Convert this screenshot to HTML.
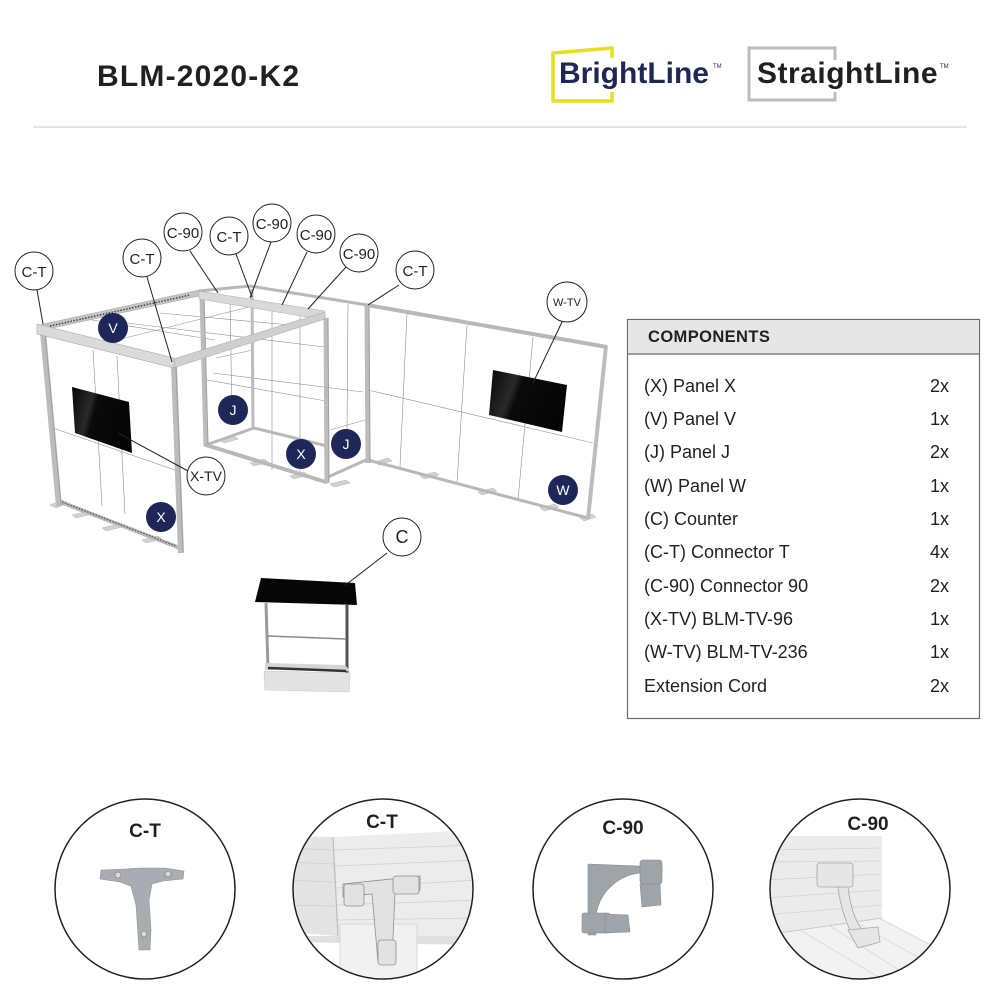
<!DOCTYPE html>
<html><head><meta charset="utf-8"><style>
html,body{margin:0;padding:0;background:#fff;}
svg{display:block;}
text{font-family:"Liberation Sans",Arial,sans-serif;}
</style></head><body>
<svg width="1000" height="1000" viewBox="0 0 1000 1000" xmlns="http://www.w3.org/2000/svg">
<defs>
<linearGradient id="tv" x1="0" y1="0" x2="1" y2="0.3">
<stop offset="0" stop-color="#050505"/><stop offset="0.35" stop-color="#2a2a2a"/><stop offset="0.45" stop-color="#0a0a0a"/><stop offset="1" stop-color="#050505"/>
</linearGradient>
<clipPath id="c2"><circle cx="383" cy="889" r="89"/></clipPath>
<clipPath id="c4"><circle cx="860" cy="889" r="89"/></clipPath>
</defs>

<!-- Header -->
<text x="97" y="86" font-size="30" font-weight="bold" fill="#231f20" letter-spacing="1.2">BLM-2020-K2</text>
<path d="M612,58 L612,48 L553,53 L553,101 L612,101 L612,92" fill="none" stroke="#e4df1f" stroke-width="3.5"/>
<text x="559" y="83" font-size="30" font-weight="bold" fill="#1e2756">BrightLine</text>
<text x="713" y="68" font-size="6" fill="#1e2756">TM</text>
<path d="M835,60 L835,48 L749,48 L749,100 L835,100 L835,92" fill="none" stroke="#bcbcbc" stroke-width="3"/>
<text x="757" y="83" font-size="30" font-weight="bold" fill="#231f20" letter-spacing="0.5">StraightLine</text>
<text x="940" y="68" font-size="6" fill="#231f20">TM</text>
<line x1="33" y1="127" x2="967" y2="127" stroke="#c8c8c8" stroke-width="1"/>

<!-- ===== Structure ===== -->
<g stroke="#8d8d8d" stroke-width="0.6" fill="none">
<line x1="127" y1="323" x2="325" y2="347"/>
<line x1="117" y1="340" x2="253" y2="306"/>
<line x1="80" y1="318" x2="215" y2="340"/>
<line x1="160" y1="313" x2="290" y2="325"/>
<line x1="93" y1="350" x2="102" y2="506"/>
<line x1="117" y1="356" x2="125" y2="514"/>
<line x1="50" y1="427" x2="175" y2="470"/>
<line x1="230" y1="300" x2="232" y2="415"/>
<line x1="272" y1="306" x2="272" y2="470"/>
<line x1="300" y1="311" x2="300" y2="476"/>
<line x1="348" y1="304" x2="347" y2="430"/>
<line x1="207" y1="380" x2="326" y2="401"/>
<line x1="213" y1="373" x2="363" y2="392"/>
<line x1="330" y1="430" x2="365" y2="420"/>
<line x1="216" y1="358" x2="253" y2="350"/>
<line x1="407" y1="313" x2="400" y2="467"/>
<line x1="467" y1="325" x2="457" y2="483"/>
<line x1="533" y1="337" x2="518" y2="500"/>
<line x1="368" y1="390" x2="593" y2="443"/>
</g>

<!-- feet -->
<g fill="#d2d2d2" stroke="#b5b5b5" stroke-width="0.5">
<polygon points="50,505 62,500 68,503 56,508"/>
<polygon points="72,515 88,511 92,514 76,518"/>
<polygon points="102,528 118,524 122,527 106,531"/>
<polygon points="142,540 158,536 162,539 146,543"/>
<polygon points="220,440 234,436 238,439 224,443"/>
<polygon points="250,463 264,459 268,462 254,466"/>
<polygon points="290,476 304,472 308,475 294,479"/>
<polygon points="330,484 346,480 350,483 334,487"/>
<polygon points="375,462 388,458 392,461 379,465"/>
<polygon points="420,476 435,472 439,475 424,479"/>
<polygon points="478,492 493,488 497,491 482,495"/>
<polygon points="540,508 555,504 559,507 544,511"/>
<polygon points="580,518 592,514 596,517 584,521"/>
</g>

<!-- bottoms -->
<g stroke="#b8b8b8" fill="none" stroke-linecap="round">
<line x1="58" y1="501" x2="180" y2="548" stroke-width="4"/>
<line x1="206" y1="445" x2="326" y2="482" stroke-width="4"/>
<line x1="254" y1="428" x2="327" y2="446" stroke-width="3"/>
<line x1="328" y1="477" x2="366" y2="460" stroke-width="3"/>
<line x1="206" y1="445" x2="254" y2="428" stroke-width="3"/>
<line x1="368" y1="460" x2="588" y2="518" stroke-width="3"/>
</g>
<line x1="62" y1="502" x2="176" y2="546" stroke="#555" stroke-width="1.2" stroke-dasharray="1.5,1.5"/>

<!-- posts -->
<g stroke="#bcbcbc" fill="none">
<line x1="43" y1="332" x2="59" y2="506" stroke-width="6"/>
<line x1="174" y1="366" x2="181" y2="553" stroke-width="6"/>
<line x1="202" y1="296" x2="206" y2="446" stroke-width="5"/>
<line x1="252" y1="289" x2="253" y2="428" stroke-width="3"/>
<line x1="326" y1="318" x2="327" y2="483" stroke-width="5"/>
<line x1="367" y1="305" x2="368" y2="463" stroke-width="5"/>
<line x1="606" y1="346" x2="588" y2="519" stroke-width="4"/>
</g>
<g stroke="#a0a0a0" stroke-width="1" fill="none">
<line x1="45" y1="333" x2="61" y2="505"/>
<line x1="176" y1="366" x2="183" y2="552"/>
<line x1="204" y1="297" x2="208" y2="445"/>
<line x1="328" y1="318" x2="329" y2="482"/>
<line x1="369" y1="306" x2="370" y2="462"/>
</g>

<!-- top beams -->
<g stroke="#b8b8b8" fill="none">
<polyline points="199,291 250,286 367,305" stroke-width="3"/>
<line x1="367" y1="305" x2="607" y2="347" stroke-width="4"/>
</g>
<polygon points="39,325 199,290 199,296 39,331" fill="#c4c4c4" stroke="#a5a5a5" stroke-width="0.5"/>
<line x1="50" y1="326" x2="190" y2="295" stroke="#444" stroke-width="1.5" stroke-dasharray="1.5,1.5"/>
<polygon points="199,291 325,311 325,320 199,299" fill="#d9d9d9" stroke="#ababab" stroke-width="0.5"/>
<polygon points="173,359 325,312 325,319 173,368" fill="#cfcfcf" stroke="#a8a8a8" stroke-width="0.5"/>
<polygon points="37,324 174,358 174,368 37,334" fill="#dadada" stroke="#a8a8a8" stroke-width="0.6"/>

<!-- TVs -->
<polygon points="72,387 129,402 132,453 75,433" fill="url(#tv)"/>
<polygon points="493,370 567,385 562,432 489,415" fill="url(#tv)"/>

<!-- Counter -->
<g>
<line x1="266" y1="603" x2="268" y2="668" stroke="#9a9a9a" stroke-width="3"/>
<line x1="347" y1="605" x2="347" y2="673" stroke="#555" stroke-width="3"/>
<line x1="268" y1="636" x2="346" y2="639" stroke="#8a8a8a" stroke-width="1.5"/>
<polygon points="265,663 345,665 350,671 265,670" fill="#d5d5d5"/>
<line x1="268" y1="668" x2="346" y2="671" stroke="#333" stroke-width="2.5"/>
<polygon points="264,671 350,673 349,692 265,690" fill="#e2e2e2" stroke="#c8c8c8" stroke-width="0.6"/>
<polygon points="261,578 355,583 357,605 255,602" fill="#060606"/>
</g>

<!-- Leader lines -->
<g stroke="#231f20" stroke-width="1" fill="none">
<line x1="37" y1="290" x2="43" y2="324"/>
<line x1="147" y1="277" x2="172" y2="362"/>
<line x1="190" y1="251" x2="218" y2="293"/>
<line x1="236" y1="254" x2="252" y2="297"/>
<line x1="271" y1="242" x2="250" y2="298"/>
<line x1="307" y1="252" x2="282" y2="305"/>
<line x1="346" y1="267" x2="308" y2="309"/>
<line x1="399" y1="285" x2="368" y2="305"/>
<line x1="562" y1="322" x2="532" y2="385"/>
<line x1="188" y1="471" x2="118" y2="433"/>
<line x1="387" y1="553" x2="343" y2="587"/>
</g>

<!-- Label circles -->
<g fill="#fff" stroke="#231f20" stroke-width="1">
<circle cx="34" cy="271" r="19"/>
<circle cx="142" cy="258" r="19"/>
<circle cx="183" cy="232" r="19"/>
<circle cx="229" cy="236" r="19"/>
<circle cx="272" cy="223" r="19"/>
<circle cx="316" cy="234" r="19"/>
<circle cx="359" cy="253" r="19"/>
<circle cx="415" cy="270" r="19"/>
<circle cx="567" cy="302" r="20"/>
<circle cx="206" cy="476" r="19"/>
<circle cx="402" cy="537" r="19"/>
</g>
<g fill="#231f20" font-size="15" text-anchor="middle">
<text x="34" y="277">C-T</text>
<text x="142" y="264">C-T</text>
<text x="183" y="238">C-90</text>
<text x="229" y="242">C-T</text>
<text x="272" y="229">C-90</text>
<text x="316" y="240">C-90</text>
<text x="359" y="259">C-90</text>
<text x="415" y="276">C-T</text>
<text x="567" y="306" font-size="11">W-TV</text>
<text x="206" y="481" font-size="14">X-TV</text>
<text x="402" y="543" font-size="18">C</text>
</g>

<!-- Navy badges -->
<g fill="#1f2758">
<circle cx="113" cy="328" r="15"/>
<circle cx="233" cy="410" r="15"/>
<circle cx="301" cy="454" r="15"/>
<circle cx="346" cy="444" r="15"/>
<circle cx="161" cy="517" r="15"/>
<circle cx="563" cy="490" r="15"/>
</g>
<g fill="#fff" font-size="14" text-anchor="middle">
<text x="113" y="333">V</text>
<text x="233" y="415">J</text>
<text x="301" y="459">X</text>
<text x="346" y="449">J</text>
<text x="161" y="522">X</text>
<text x="563" y="495">W</text>
</g>

<!-- Components table -->
<rect x="627.5" y="319.5" width="352" height="399" fill="#fff" stroke="#6a6a6a" stroke-width="1.2"/>
<rect x="628" y="320" width="351" height="34" fill="#e6e6e6"/>
<line x1="627.5" y1="354" x2="979.5" y2="354" stroke="#6a6a6a" stroke-width="1.2"/>
<text x="648" y="342" font-size="16.5" font-weight="bold" fill="#231f20" letter-spacing="0.4">COMPONENTS</text>
<g font-size="18" fill="#231f20">
<text x="644" y="392">(X) Panel X</text>
<text x="644" y="425">(V) Panel V</text>
<text x="644" y="458">(J) Panel J</text>
<text x="644" y="492">(W) Panel W</text>
<text x="644" y="525">(C) Counter</text>
<text x="644" y="558">(C-T) Connector T</text>
<text x="644" y="592">(C-90) Connector 90</text>
<text x="644" y="625">(X-TV) BLM-TV-96</text>
<text x="644" y="658">(W-TV) BLM-TV-236</text>
<text x="644" y="692">Extension Cord</text>
</g>
<g font-size="18" fill="#231f20" text-anchor="end">
<text x="949" y="392">2x</text>
<text x="949" y="425">1x</text>
<text x="949" y="458">2x</text>
<text x="949" y="492">1x</text>
<text x="949" y="525">1x</text>
<text x="949" y="558">4x</text>
<text x="949" y="592">2x</text>
<text x="949" y="625">1x</text>
<text x="949" y="658">1x</text>
<text x="949" y="692">2x</text>
</g>

<!-- ===== Bottom detail circles ===== -->
<circle cx="145" cy="889" r="90" fill="#fff" stroke="#231f20" stroke-width="1.5"/>
<text x="145" y="837" font-size="19" font-weight="bold" fill="#231f20" text-anchor="middle">C-T</text>
<g fill="#a9adb2" stroke="#8e9297" stroke-width="0.6">
<path d="M101,870 L125,869 L140,868 L165,868 L184,871 L183,879 L163,881 L152,884 L149,900 L151,930 L150,950 L139,950 L138,935 L136,905 L131,886 L120,882 L100,879 Z"/>
</g>
<g fill="#d7d9dc" stroke="#777" stroke-width="0.6">
<circle cx="118" cy="875" r="3"/>
<circle cx="168" cy="874" r="3"/>
<circle cx="144" cy="934" r="3"/>
</g>

<circle cx="383" cy="889" r="90" fill="#fff"/>
<g clip-path="url(#c2)">
<polygon points="285,836 333,837 338,936 285,932" fill="#e4e4e4"/>
<polygon points="333,837 480,830 480,936 338,936" fill="#ececec"/>
<g stroke="#d0d0d0" stroke-width="0.8">
<line x1="285" y1="848" x2="333" y2="850"/>
<line x1="285" y1="862" x2="334" y2="864"/>
<line x1="285" y1="880" x2="335" y2="882"/>
<line x1="285" y1="905" x2="336" y2="906"/>
<line x1="334" y1="850" x2="480" y2="845"/>
<line x1="335" y1="866" x2="480" y2="860"/>
<line x1="336" y1="888" x2="480" y2="880"/>
<line x1="337" y1="905" x2="480" y2="900"/>
<line x1="337" y1="920" x2="480" y2="918"/>
</g>
<line x1="333" y1="837" x2="338" y2="936" stroke="#bcbcbc" stroke-width="1.2"/>
<polygon points="285,936 480,936 480,945 285,942" fill="#e0e0e0"/>
<polygon points="340,924 417,924 417,990 340,990" fill="#f1f1f1" stroke="#cfcfcf" stroke-width="0.8"/>
<g fill="#e2e2e2" stroke="#8f8f8f" stroke-width="0.8">
<path d="M343,884 L420,876 L420,890 L395,893 L392,960 L378,962 L372,894 L343,897 Z"/>
<rect x="344" y="884" width="20" height="22" rx="3"/>
<rect x="393" y="876" width="26" height="18" rx="3"/>
<rect x="378" y="940" width="18" height="25" rx="3"/>
</g>
</g>
<circle cx="383" cy="889" r="90" fill="none" stroke="#231f20" stroke-width="1.5"/>
<rect x="360" y="810" width="46" height="22" fill="#fff"/>
<text x="382" y="828" font-size="19" font-weight="bold" fill="#231f20" text-anchor="middle">C-T</text>

<circle cx="623" cy="889" r="90" fill="#fff" stroke="#231f20" stroke-width="1.5"/>
<text x="623" y="834" font-size="19" font-weight="bold" fill="#231f20" text-anchor="middle">C-90</text>
<g fill="#9fa4a9" stroke="#85898e" stroke-width="0.6">
<path d="M588,864 L662,867 L662,874 L640,873 C620,875 600,890 596,915 L596,935 L588,935 Z"/>
<rect x="640" y="860" width="22" height="24" rx="3"/>
<path d="M640,884 L660,884 L661,905 L642,907 Z"/>
<rect x="582" y="913" width="28" height="20" rx="2"/>
<path d="M605,914 L628,915 L630,932 L605,933 Z"/>
</g>

<circle cx="860" cy="889" r="90" fill="#fff"/>
<g clip-path="url(#c4)">
<polygon points="765,836 882,836 882,918 765,935" fill="#ebebeb"/>
<g stroke="#d2d2d2" stroke-width="0.8">
<line x1="765" y1="850" x2="882" y2="848"/>
<line x1="765" y1="862" x2="882" y2="861"/>
<line x1="765" y1="880" x2="882" y2="874"/>
<line x1="765" y1="898" x2="882" y2="890"/>
<line x1="765" y1="915" x2="882" y2="905"/>
</g>
<polygon points="765,935 882,918 960,960 960,990 765,990" fill="#f2f2f2"/>
<g stroke="#d8d8d8" stroke-width="0.8">
<line x1="800" y1="930" x2="900" y2="990"/>
<line x1="830" y1="926" x2="930" y2="990"/>
<line x1="855" y1="922" x2="950" y2="975"/>
<line x1="880" y1="919" x2="960" y2="960"/>
</g>
<line x1="765" y1="935" x2="882" y2="918" stroke="#c8c8c8" stroke-width="1"/>
<g fill="#e6e6e6" stroke="#a5a5a5" stroke-width="0.8">
<path d="M838,887 L848,887 C850,905 855,920 862,930 L852,935 C845,920 840,905 838,887 Z"/>
<rect x="817" y="863" width="36" height="24" rx="3"/>
<path d="M848,930 L878,927 L880,942 L858,948 Z"/>
</g>
</g>
<circle cx="860" cy="889" r="90" fill="none" stroke="#231f20" stroke-width="1.5"/>
<text x="868" y="830" font-size="19" font-weight="bold" fill="#231f20" text-anchor="middle">C-90</text>
</svg>
</body></html>
